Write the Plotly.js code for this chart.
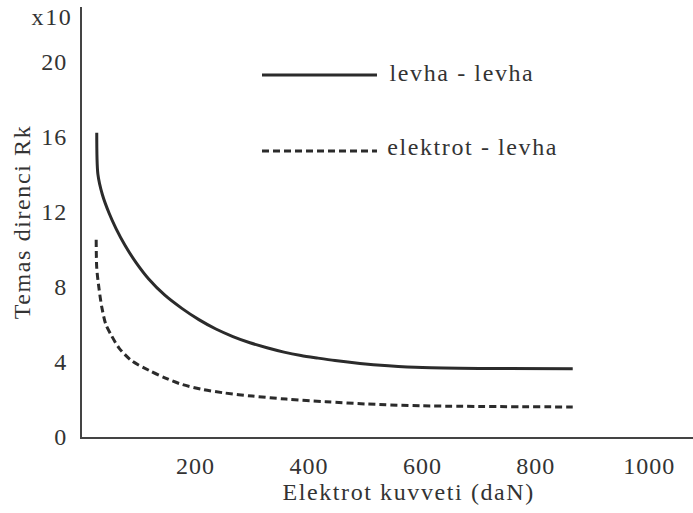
<!DOCTYPE html>
<html>
<head>
<meta charset="utf-8">
<script src="https://cdn.plot.ly/plotly-3.0.1.min.js"></script>
<style>
  html, body { margin: 0; padding: 0; background: #fff; }
  #chart { width: 693px; height: 513px; }
  /* loose typewriter-like spacing of the printed figure */
  #chart .xtick text, #chart .ytick text { letter-spacing: 1px; }
  #chart .annotation-text, #chart .ytitle { letter-spacing: 1.6px; }
</style>
</head>
<body>
<div id="chart"></div>
<script>
// Electrode force (daN) against contact resistance Rk (x10)
const forceLevhaLevha = [26, 28, 36, 48, 60, 76, 95, 118, 146, 176, 206, 236, 266, 296, 326, 356, 386, 416, 446, 490, 540, 600, 700, 865];
const rkLevhaLevha    = [16.2, 14.0, 12.9, 11.9, 11.1, 10.2, 9.3, 8.4, 7.55, 6.85, 6.25, 5.75, 5.35, 5.02, 4.75, 4.52, 4.34, 4.2, 4.07, 3.92, 3.8, 3.7, 3.65, 3.63];

const forceElektrotLevha = [25, 26, 30, 35, 42, 52, 65, 88, 118, 146, 176, 210, 250, 300, 360, 430, 500, 600, 865];
const rkElektrotLevha    = [10.5, 9.0, 7.9, 6.9, 6.0, 5.4, 4.75, 4.05, 3.55, 3.15, 2.8, 2.55, 2.35, 2.18, 2.02, 1.88, 1.76, 1.66, 1.6];

const xTicks = [200, 400, 600, 800, 1000];
const yTicks = [0, 4, 8, 12, 16, 20];

const seriesNames = ['levha - levha', 'elektrot - levha'];
const ink = '#2b2b2b';
const serif = '"Liberation Serif", "Times New Roman", serif';
const txt = { family: serif, size: 24, color: '#333' };

const traces = [
  {
    x: forceLevhaLevha, y: rkLevhaLevha, name: seriesNames[0],
    type: 'scatter', mode: 'lines',
    line: { color: ink, width: 3, shape: 'spline', smoothing: 0.8 }
  },
  {
    x: forceElektrotLevha, y: rkElektrotLevha, name: seriesNames[1],
    type: 'scatter', mode: 'lines',
    line: { color: ink, width: 3, dash: '7px,4px', shape: 'spline', smoothing: 0.8 }
  }
];

const layout = {
  width: 693, height: 513,
  margin: { l: 82, r: 0, t: 7, b: 76 },
  paper_bgcolor: '#fff', plot_bgcolor: '#fff',
  showlegend: false,
  font: txt,
  xaxis: {
    range: [0, 1077],
    tickvals: xTicks,
    ticks: '', showgrid: false, zeroline: false,
    showline: true, linecolor: '#444', linewidth: 2,
    ticklabelstandoff: 6,
    tickfont: txt
  },
  yaxis: {
    range: [0, 22.9],
    tickvals: yTicks,
    ticks: '', showgrid: false, zeroline: false,
    showline: true, linecolor: '#444', linewidth: 2,
    ticklabelstandoff: 8,
    tickfont: txt,
    title: { text: 'Temas direnci Rk', standoff: 6, font: txt }
  },
  // key: line samples with their labels
  shapes: [
    { type: 'line', xref: 'paper', yref: 'paper', x0: 0.2946, x1: 0.4828, y0: 0.8419, y1: 0.8419,
      line: { color: ink, width: 3 } },
    { type: 'line', xref: 'paper', yref: 'paper', x0: 0.2946, x1: 0.4828, y0: 0.6651, y1: 0.6651,
      line: { color: ink, width: 3, dash: '7px,4px' } }
  ],
  annotations: [
    { text: seriesNames[0], xref: 'paper', yref: 'paper', x: 0.517, y: 0.8465,
      xanchor: 'left', yanchor: 'middle', showarrow: false, font: txt },
    { text: seriesNames[1], xref: 'paper', yref: 'paper', x: 0.517, y: 0.6744,
      xanchor: 'left', yanchor: 'middle', showarrow: false, font: txt },
    { text: 'x10', xref: 'paper', yref: 'paper', x: -0.0164, y: 0.9767,
      xanchor: 'right', yanchor: 'middle', showarrow: false, font: txt },
    { text: 'Elektrot kuvveti (daN)', xref: 'paper', yref: 'paper', x: 0.5336, y: -0.128,
      xanchor: 'center', yanchor: 'middle', showarrow: false, font: txt }
  ]
};

Plotly.newPlot('chart', traces, layout, { displayModeBar: false, staticPlot: true });
</script>
</body>
</html>
